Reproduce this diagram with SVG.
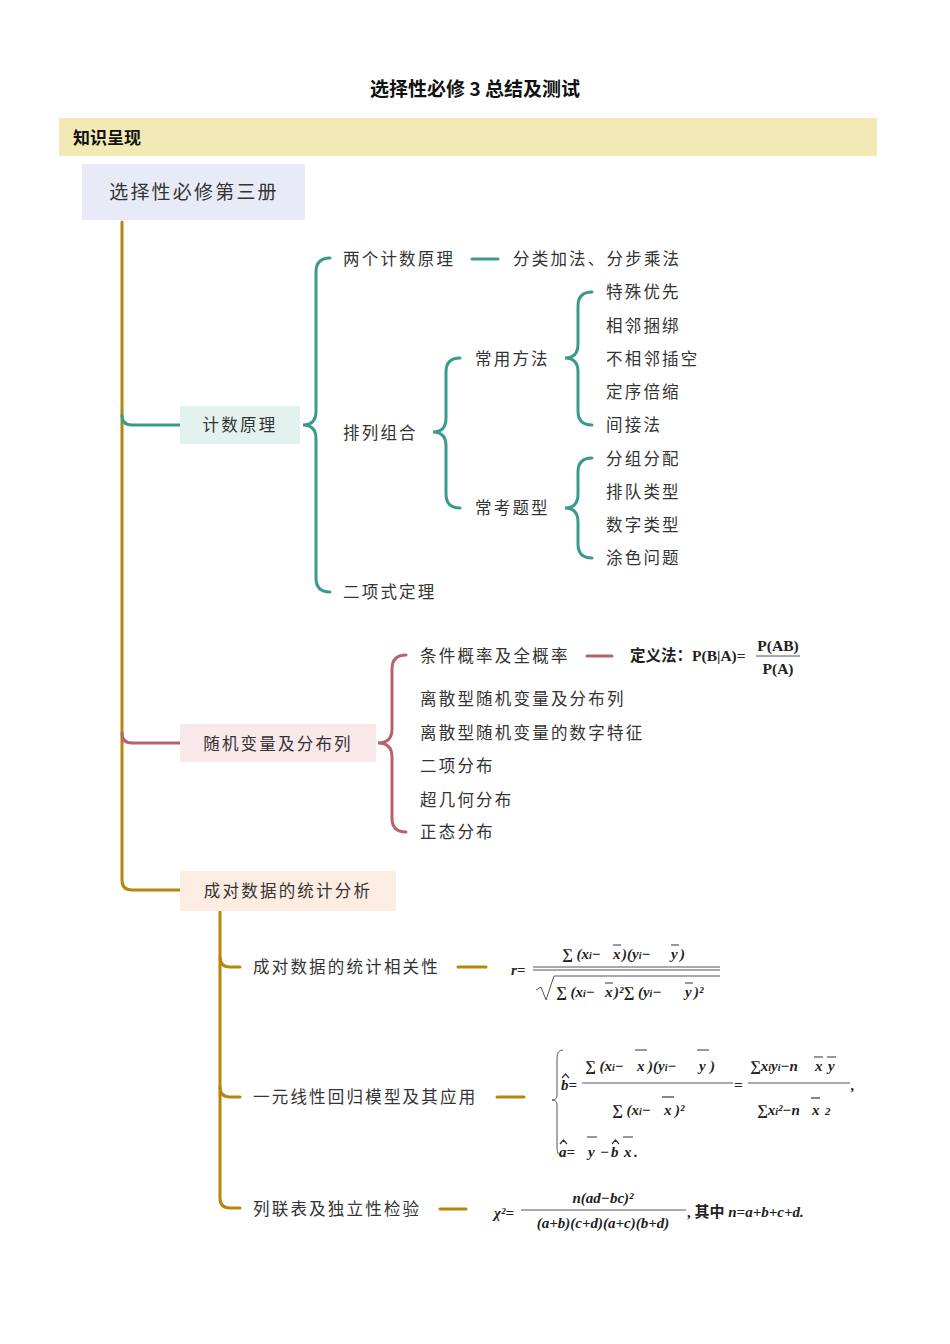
<svg xmlns="http://www.w3.org/2000/svg" width="950" height="1344" viewBox="0 0 950 1344">
<style>
.t{font-family:"Noto Sans CJK SC","Noto Sans",sans-serif;font-size:16.5px;fill:#333;letter-spacing:2.2px}
.f{font-family:"Liberation Serif","Noto Sans CJK SC",serif;font-weight:bold;fill:#222}
.fi{font-family:"Liberation Serif",serif;font-weight:bold;font-style:italic;fill:#222}
.teal{stroke:#3a9a8e;stroke-width:3;fill:none;stroke-linecap:round}
.red{stroke:#b5646e;stroke-width:3;fill:none;stroke-linecap:round}
.gold{stroke:#b8860b;stroke-width:3;fill:none;stroke-linecap:round}
.fl{stroke:#555;stroke-width:1;fill:none}
.ol{stroke:#333;stroke-width:1.2;fill:none}
</style>
<rect width="950" height="1344" fill="#fff"/>
<text x="475" y="96" text-anchor="middle" font-family="Noto Sans CJK SC,sans-serif" font-weight="bold" font-size="19" fill="#111">选择性必修 3 总结及测试</text>
<rect x="59" y="118" width="818" height="38" fill="#f3e9b5"/>
<text x="73" y="144" font-family="Noto Sans CJK SC,sans-serif" font-weight="bold" font-size="17" fill="#111">知识呈现</text>
<g id="connectors">
<path class="gold" d="M122,222 L122,880 Q122,890 132,890 L180,890"/>
<path class="teal" d="M122,415 Q122,425 132,425 L180,425"/>
<path class="red" d="M122,733 Q122,743 132,743 L180,743"/>
<path class="teal" d="M330,258 Q316,258 316,272 L316,411 Q316,425 303,425 Q316,425 316,439 L316,578 Q316,592 330,592"/>
<path class="teal" d="M472,259 L498,259"/>
<path class="teal" d="M460,358 Q446,358 446,372 L446,418 Q446,432 433,432 Q446,432 446,446 L446,494 Q446,508 460,508"/>
<path class="teal" d="M592,292 Q578,292 578,306 L578,344 Q578,358 565,358 Q578,358 578,372 L578,411 Q578,425 592,425"/>
<path class="teal" d="M592,458 Q578,458 578,472 L578,494 Q578,508 565,508 Q578,508 578,522 L578,544 Q578,558 592,558"/>
<path class="red" d="M406,655 Q392,655 392,669 L392,729 Q392,743 378,743 Q392,743 392,757 L392,818 Q392,832 406,832"/>
<path class="red" d="M587,656 L612,656"/>
<path class="gold" d="M220,912 L220,1198 Q220,1208 230,1208 L240,1208"/>
<path class="gold" d="M220,957 Q220,967 230,967 L240,967"/>
<path class="gold" d="M220,1087 Q220,1097 230,1097 L240,1097"/>
<path class="gold" d="M458,967 L486,967"/>
<path class="gold" d="M497,1097 L524,1097"/>
<path class="gold" d="M440,1209 L466,1209"/>
</g>
<g id="root"><rect x="82" y="164" width="223" height="56" fill="#e8eaf8"/><text x="194" y="199" text-anchor="middle" class="t" style="font-size:19px">选择性必修第三册</text></g>
<g id="n1"><rect x="180" y="406" width="120" height="38" fill="#e3f2ef"/><text x="240" y="431" text-anchor="middle" class="t">计数原理</text></g>
<g id="n2"><rect x="180" y="724" width="196" height="38" fill="#fbe8eb"/><text x="278" y="750" text-anchor="middle" class="t">随机变量及分布列</text></g>
<g id="n3"><rect x="180" y="871" width="216" height="40" fill="#fcece2"/><text x="288" y="897" text-anchor="middle" class="t">成对数据的统计分析</text></g>
<g id="leaves1">
<text x="343" y="265" class="t">两个计数原理</text>
<text x="513" y="265" class="t">分类加法、分步乘法</text>
<text x="343" y="439" class="t">排列组合</text>
<text x="343" y="598" class="t">二项式定理</text>
<text x="475" y="365" class="t">常用方法</text>
<text x="475" y="514" class="t">常考题型</text>
<text x="606" y="298" class="t">特殊优先</text>
<text x="606" y="332" class="t">相邻捆绑</text>
<text x="606" y="365" class="t">不相邻插空</text>
<text x="606" y="398" class="t">定序倍缩</text>
<text x="606" y="431" class="t">间接法</text>
<text x="606" y="465" class="t">分组分配</text>
<text x="606" y="498" class="t">排队类型</text>
<text x="606" y="531" class="t">数字类型</text>
<text x="606" y="564" class="t">涂色问题</text>
</g>
<g id="leaves2">
<text x="420" y="662" class="t">条件概率及全概率</text>
<text x="420" y="705" class="t">离散型随机变量及分布列</text>
<text x="420" y="739" class="t">离散型随机变量的数字特征</text>
<text x="420" y="772" class="t">二项分布</text>
<text x="420" y="806" class="t">超几何分布</text>
<text x="420" y="838" class="t">正态分布</text>
<text x="630" y="661" class="f" font-size="15.5">定义法：P(B|A)=</text>
<text x="778" y="651" class="f" font-size="15.5" text-anchor="middle">P(AB)</text>
<line x1="756" y1="656" x2="800" y2="656" class="fl"/>
<text x="778" y="674" class="f" font-size="15.5" text-anchor="middle">P(A)</text>
</g>
<g id="leaves3">
<text x="253" y="973" class="t">成对数据的统计相关性</text>
<text x="253" y="1103" class="t">一元线性回归模型及其应用</text>
<text x="253" y="1215" class="t">列联表及独立性检验</text>
<g id="f-r" font-size="15">
<text x="511" y="975" class="fi">r=</text>
<text y="959" class="fi"><tspan x="562">∑ (x</tspan><tspan font-size="10">i</tspan><tspan>−</tspan><tspan x="613">x</tspan><tspan x="622">)(y</tspan><tspan font-size="10">i</tspan><tspan>−</tspan><tspan x="671">y</tspan><tspan x="680">)</tspan></text>
<path class="ol" d="M613,945 H621 M671,945 H679"/>
<line x1="533" y1="967" x2="720" y2="967" class="fl"/>
<line x1="533" y1="970" x2="720" y2="970" class="fl"/>
<path d="M536,990 L541,987 L546,1000 L554,976 L720,976" class="fl"/>
<text y="997" class="fi"><tspan x="556">∑ (x</tspan><tspan font-size="10">i</tspan><tspan>−</tspan><tspan x="605">x</tspan><tspan x="614">)²∑ (y</tspan><tspan font-size="10">i</tspan><tspan>−</tspan><tspan x="685">y</tspan><tspan x="694">)²</tspan></text>
<path class="ol" d="M605,983 H613 M685,983 H693"/>
</g>
<g id="f-b" font-size="15">
<path d="M563,1050 Q557,1050 557,1058 L557,1095 Q557,1100 552,1100 Q557,1100 557,1105 L557,1148 Q557,1156 563,1156" class="fl" stroke-width="2"/>
<text x="561" y="1090" class="fi">b=</text>
<path class="ol" d="M562,1078 L565.5,1074 L569,1078"/>
<text y="1071" class="fi"><tspan x="585">∑ (x</tspan><tspan font-size="10">i</tspan><tspan>−</tspan><tspan x="637">x</tspan><tspan x="648">)(y</tspan><tspan font-size="10">i</tspan><tspan>−</tspan><tspan x="699">y</tspan><tspan x="710">)</tspan></text>
<path class="ol" d="M635,1050 H647 M697,1050 H709"/>
<line x1="582" y1="1083" x2="733" y2="1083" class="fl"/>
<text y="1115" class="fi"><tspan x="612">∑ (x</tspan><tspan font-size="10">i</tspan><tspan>−</tspan><tspan x="664">x</tspan><tspan x="675">)²</tspan></text>
<path class="ol" d="M662,1097 H674"/>
<text x="734" y="1090" class="fi">=</text>
<text y="1071" class="fi"><tspan x="750">∑x</tspan><tspan font-size="10">i</tspan><tspan>y</tspan><tspan font-size="10">i</tspan><tspan>−n</tspan><tspan x="815">x</tspan><tspan x="828">y</tspan></text>
<path class="ol" d="M814,1057 H823 M827,1057 H836"/>
<line x1="748" y1="1083" x2="850" y2="1083" class="fl"/>
<text y="1115" class="fi"><tspan x="757">∑x</tspan><tspan font-size="10">i</tspan><tspan>²−n</tspan><tspan x="812">x</tspan><tspan x="825" font-size="11">2</tspan></text>
<path class="ol" d="M811,1098 H820"/>
<text x="851" y="1090" class="fi">,</text>
<text y="1157" class="fi"><tspan x="559">a=</tspan><tspan x="588">y</tspan><tspan x="600">−</tspan><tspan x="611">b</tspan><tspan x="624">x</tspan><tspan x="634">.</tspan></text>
<path class="ol" d="M560,1144 L563.5,1140 L567,1144 M612,1144 L615.5,1140 L619,1144 M587,1137 H597 M623,1137 H633"/>
</g>
<g id="f-chi" font-size="15">
<text x="494" y="1218" class="fi">χ²=</text>
<text x="603" y="1203" class="fi" text-anchor="middle">n(ad−bc)²</text>
<line x1="521" y1="1210" x2="686" y2="1210" class="fl"/>
<text x="603" y="1228" class="fi" text-anchor="middle">(a+b)(c+d)(a+c)(b+d)</text>
<text x="687" y="1217" class="f">, 其中 <tspan font-style="italic">n=a+b+c+d.</tspan></text>
</g>
</g>
</svg>
